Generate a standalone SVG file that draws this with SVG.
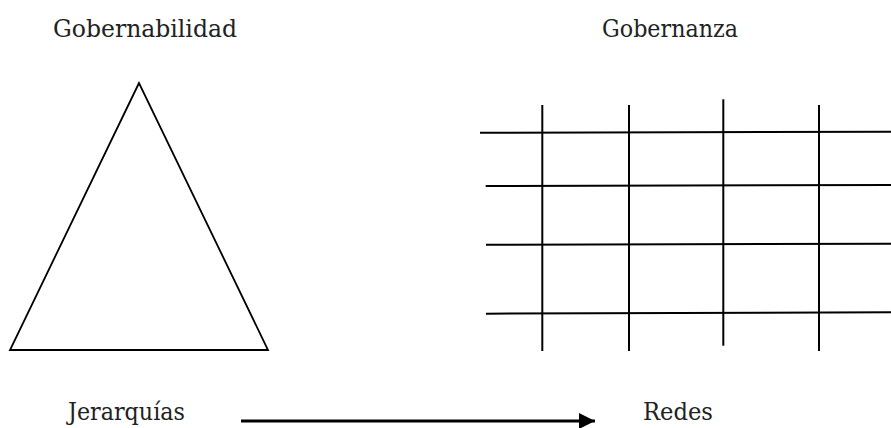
<svg xmlns="http://www.w3.org/2000/svg" width="891" height="428" viewBox="0 0 891 428">
<style>
  text { font-family: "DejaVu Serif", serif; font-size: 25px; fill: #222; }
  .shape { fill: none; stroke: #000; stroke-width: 1.8; }
  .grid line { stroke: #000; stroke-width: 2; }
  .conn { stroke: #000; stroke-width: 3; fill: none; }
</style>
<defs>
  <marker id="arrow" markerUnits="userSpaceOnUse" markerWidth="17" markerHeight="17" refX="16" refY="8" orient="auto">
    <path d="M0,0 L16,8 L0,16 Z" fill="#000"/>
  </marker>
</defs>
<rect width="891" height="428" fill="#fff"/>
<g id="title-gobernabilidad"><text x="53" y="37" textLength="184" lengthAdjust="spacingAndGlyphs">Gobernabilidad</text></g>
<g id="title-gobernanza"><text x="602" y="37" textLength="136" lengthAdjust="spacingAndGlyphs">Gobernanza</text></g>
<g id="triangle"><polygon class="shape" points="139,83 10,350 268,350"/></g>
<g id="grid" class="grid">
  <line x1="480" y1="132.7" x2="891" y2="131.7"/>
  <line x1="485.7" y1="186" x2="891" y2="185"/>
  <line x1="486" y1="244.7" x2="891" y2="243.7"/>
  <line x1="486" y1="313.7" x2="891" y2="312.3"/>
  <line x1="542.3" y1="105" x2="542.3" y2="351"/>
  <line x1="629" y1="105" x2="629" y2="351"/>
  <line x1="723.3" y1="99.3" x2="723.3" y2="345.7"/>
  <line x1="819" y1="105" x2="819" y2="351"/>
</g>
<g id="label-jerarquias"><text x="68" y="420" textLength="117" lengthAdjust="spacingAndGlyphs">Jerarquías</text></g>
<g id="label-redes"><text x="643" y="420" textLength="70" lengthAdjust="spacingAndGlyphs">Redes</text></g>
<g id="connectors">
  <line class="conn" x1="241" y1="421" x2="595" y2="421" marker-end="url(#arrow)"/>
</g>
</svg>
